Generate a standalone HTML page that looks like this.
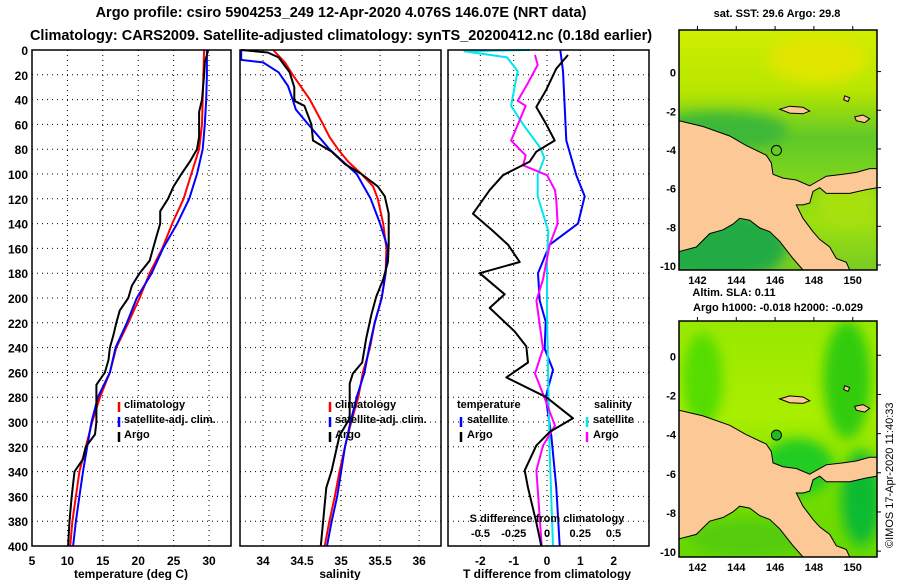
<!DOCTYPE html>
<html><head><meta charset="utf-8">
<style>
body{margin:0;background:#fff;}
svg text{font-family:"Liberation Sans",sans-serif;font-weight:bold;fill:#000;}
</style></head>
<body>
<svg id="chart" width="900" height="580" viewBox="0 0 900 580" xmlns="http://www.w3.org/2000/svg">
<text x="341" y="17" font-size="14.5" text-anchor="middle">Argo profile: csiro 5904253_249 12-Apr-2020 4.076S 146.07E (NRT data)</text>
<text x="341" y="40" font-size="14.5" text-anchor="middle">Climatology: CARS2009. Satellite-adjusted climatology: synTS_20200412.nc (0.18d earlier)</text>
<text x="777" y="17" font-size="11" text-anchor="middle">sat. SST: 29.6 Argo: 29.8</text>
<text x="734" y="296" font-size="11" text-anchor="middle">Altim. SLA: 0.11</text>
<text x="778" y="311" font-size="11" text-anchor="middle">Argo h1000: -0.018 h2000: -0.029</text>
<text transform="translate(893,548) rotate(-90)" font-size="11" style="font-weight:normal">©IMOS 17-Apr-2020 11:40:33</text>
<g id="plots"></g>
<g id="maps"></g>
</svg>
<script>
// ---------- data ----------
const depthsT = [0,20,40,60,80,100,120,140,160,180,200,220,240,260,280,300,320,340,360,380,400];
const tempClim = [29.3,29.2,29.1,29.0,28.6,27.5,26.4,24.8,23.4,21.6,20.2,18.6,16.9,16.0,14.6,13.5,12.6,11.7,11.2,10.7,10.4];
const tempSat = [29.7,29.7,29.6,29.4,29.1,28.3,27.2,25.5,23.5,21.9,19.8,18.4,16.8,16.0,14.3,13.4,12.8,12.2,11.7,11.2,10.8];
const depthsArgoT = [0,10,20,40,50,70,80,90,100,110,120,130,140,150,160,170,180,190,200,210,220,230,240,250,260,270,280,300,310,320,330,340,360,380,400];
const tempArgo = [29.9,29.4,29.3,29.0,28.6,28.6,28.3,27.3,26.1,25.0,24.2,23.1,23.1,22.6,22.1,21.6,20.2,19.1,18.6,17.4,16.9,16.5,16.0,15.8,15.3,14.1,14.1,14.1,13.9,12.6,12.2,11.0,10.6,10.3,10.1];

const depthsSC = [0,10,20,30,40,60,70,80,90,100,110,120,140,160,180,200,220,240,260,280,300,320,340,360,380,400];
const salClim = [34.13,34.28,34.38,34.49,34.6,34.77,34.85,34.96,35.09,35.26,35.41,35.47,35.54,35.58,35.57,35.52,35.43,35.37,35.28,35.22,35.13,35.05,34.98,34.92,34.85,34.79];
const depthsSS = [0,8,10,18,29,40,48,60,80,100,120,140,160,180,200,220,240,260,280,300,320,340,360,380,400];
const salSat = [33.72,33.72,34.0,34.2,34.32,34.38,34.42,34.58,34.85,35.2,35.38,35.5,35.6,35.57,35.52,35.43,35.36,35.3,35.2,35.12,35.05,35.0,34.95,34.88,34.82];
const depthsSA = [0,2,6,18,30,41,45,60,73,82,92,100,110,118,132,157,171,185,199,213,233,252,261,269,297,311,339,353,400];
const salArgo = [33.72,34.06,34.2,34.34,34.4,34.4,34.53,34.62,34.64,34.88,35.05,35.26,35.47,35.56,35.61,35.61,35.6,35.54,35.45,35.39,35.32,35.27,35.15,35.11,35.11,34.98,34.88,34.81,34.74];

const depthsDTs = [0,17,73,101,118,140,157,180,202,219,241,258,280,311,353,400];
const dTsat = [0.4,0.48,0.58,0.88,1.13,0.93,0.08,-0.27,-0.22,-0.04,-0.07,0.18,-0.04,0.13,0.28,0.38];
const depthsDTa = [4,15,32,46,60,73,82,90,101,113,132,146,157,171,180,197,208,227,239,252,264,280,297,308,319,339,353,381,400];
const dTargo = [0.63,0.28,-0.02,-0.32,-0.02,0.23,-0.32,-0.52,-1.32,-1.72,-2.22,-1.62,-1.17,-0.82,-2.02,-1.27,-1.72,-0.97,-0.62,-0.57,-1.22,-0.02,0.78,0.08,-0.32,-0.67,-0.57,-0.32,-0.17];
const depthsDSs = [0,1,6,17,45,60,79,87,101,118,146,171,213,269,325,400];
const dSsat = [-0.13,-0.62,-0.3,-0.22,-0.27,-0.18,-0.05,-0.02,-0.07,-0.07,0.01,0.0,0.0,0.01,0.02,0.045];
const depthsDSa = [4,12,26,41,45,73,85,93,101,113,121,140,157,185,202,241,261,280,303,319,339,400];
const dSargo = [-0.09,-0.07,-0.14,-0.22,-0.16,-0.27,-0.16,-0.18,0.0,0.06,0.07,0.08,0.02,-0.03,-0.08,-0.03,-0.09,-0.02,0.06,-0.03,-0.08,-0.04];

const depthTicks = [0,20,40,60,80,100,120,140,160,180,200,220,240,260,280,300,320,340,360,380,400];
const tempTicks = [5,10,15,20,25,30];
const salTicks = [34,34.5,35,35.5,36];
const dTTicks = [-2,-1,0,1,2];
const dSTicks = [-0.5,-0.25,0,0.25,0.5];
const latTicks = [0,-2,-4,-6,-8,-10];
const lonTicks = [142,144,146,148,150];

// ---------- helpers ----------
const NS = 'http://www.w3.org/2000/svg';
function mk(tag, attrs, parent){const e=document.createElementNS(NS,tag);for(const k in attrs)e.setAttribute(k,attrs[k]);parent.appendChild(e);return e;}
const Y0=50, Y1=546;
const yD = d => Y0 + d*(Y1-Y0)/400;
const plots = document.getElementById('plots');

function panel(name,x0,x1,vmin,vmax){
  const sx = v => x0 + (v-vmin)/(vmax-vmin)*(x1-x0);
  const g = mk('g',{},plots);
  
  
  return {g,sx,x0,x1};
}
function grid(p, ticks, name){
  ticks.forEach(t=>{
    const l=mk('line',{x1:p.sx(t),x2:p.sx(t),y1:Y0,y2:Y1,stroke:'#000','stroke-width':1,'stroke-dasharray':'1,4'},p.g);
    
    
  });
  depthTicks.forEach(d=>{
    const l=mk('line',{x1:p.x0,x2:p.x1,y1:yD(d),y2:yD(d),stroke:'#000','stroke-width':1,'stroke-dasharray':'1,4'},p.g);
    
    
  });
}
function frame(p){
  const r=mk('rect',{x:p.x0,y:Y0,width:p.x1-p.x0,height:Y1-Y0,fill:'none',stroke:'#000','stroke-width':1.5},p.g);
  
  
}
function series(p, sxf, depths, vals, color, name){
  let pts=depths.map((d,i)=>{let x=sxf(vals[i]);x=Math.max(p.x0,Math.min(p.x1,x));return x.toFixed(1)+','+yD(d).toFixed(1);}).join(' ');
  const pl=mk('polyline',{points:pts,fill:'none',stroke:color,'stroke-width':2,'stroke-linejoin':'round'},p.g);
  
  
}
function xlabels(p, ticks, y){
  ticks.forEach(t=>{
    const tx=mk('text',{x:p.sx(t),y:y,'font-size':12,'text-anchor':'middle'},p.g);
    tx.textContent=String(t);
    
    
  });
}
function txt(parent,x,y,s,size,name,anchor){
  const t=mk('text',{x:x,y:y,'font-size':size,'text-anchor':anchor||'start'},parent);
  t.textContent=s;
  
  
  return t;
}
function legendMark(parent,x,y,color,name){
  const l=mk('line',{x1:x,x2:x,y1:y-9,y2:y+1,stroke:color,'stroke-width':2.5},parent);
  
  
}

// ---------- temperature panel ----------
const pT = panel('temperature-panel',32,231,5,33.1);
grid(pT,tempTicks.slice(1),'temperature');
series(pT,pT.sx,depthsT,tempClim,'#ff0000','temperature-climatology-line');
series(pT,pT.sx,depthsT,tempSat,'#0000ff','temperature-satellite-line');
series(pT,pT.sx,depthsArgoT,tempArgo,'#000000','temperature-argo-line');
frame(pT);
xlabels(pT,tempTicks,565);
txt(pT.g,131,578,'temperature (deg C)',12,'temperature-axis-title','middle');
depthTicks.forEach(d=>{txt(pT.g,28,yD(d)+5,String(d),12,'depth-tick-label','end');});
legendMark(pT.g,119,411,'#ff0000','legend-climatology-mark');
txt(pT.g,124,408,'climatology',11,'legend-climatology-text');
legendMark(pT.g,119,426,'#0000ff','legend-satellite-mark');
txt(pT.g,124,423,'satellite-adj. clim.',11,'legend-satellite-text');
legendMark(pT.g,119,441,'#000000','legend-argo-mark');
txt(pT.g,124,438,'Argo',11,'legend-argo-text');

// ---------- salinity panel ----------
const pS = panel('salinity-panel',240,441,33.705,36.28);
grid(pS,salTicks,'salinity');
series(pS,pS.sx,depthsSC,salClim,'#ff0000','salinity-climatology-line');
series(pS,pS.sx,depthsSS,salSat,'#0000ff','salinity-satellite-line');
series(pS,pS.sx,depthsSA,salArgo,'#000000','salinity-argo-line');
frame(pS);
xlabels(pS,salTicks,565);
txt(pS.g,340,578,'salinity',12,'salinity-axis-title','middle');
legendMark(pS.g,330,411,'#ff0000','legend-climatology-mark');
txt(pS.g,335,408,'climatology',11,'legend-climatology-text');
legendMark(pS.g,330,426,'#0000ff','legend-satellite-mark');
txt(pS.g,335,423,'satellite-adj. clim.',11,'legend-satellite-text');
legendMark(pS.g,330,441,'#000000','legend-argo-mark');
txt(pS.g,335,438,'Argo',11,'legend-argo-text');

// ---------- difference panel ----------
const pD = panel('difference-panel',448,649,-2.97,3.06);
const sxS = v => 547 + v*133;
grid(pD,dTTicks,'tdiff');
series(pD,pD.sx,depthsDTs,dTsat,'#0000ff','tdiff-satellite-line');
series(pD,sxS,depthsDSs,dSsat,'#00e5ee','sdiff-satellite-line');
series(pD,sxS,depthsDSa,dSargo,'#ff00ff','sdiff-argo-line');
series(pD,pD.sx,depthsDTa,dTargo,'#000000','tdiff-argo-line');
frame(pD);
xlabels(pD,dTTicks,565);
txt(pD.g,547,578,'T difference from climatology',12,'tdiff-axis-title','middle');
txt(pD.g,547,522,'S difference from climatology',11,'sdiff-axis-title','middle');
dSTicks.forEach(t=>{txt(pD.g,sxS(t),537,String(t),11,'sdiff-tick-label','middle');});
txt(pD.g,457,408,'temperature',11,'legend-temperature-heading');
legendMark(pD.g,461,426,'#0000ff','legend-tsat-mark');
txt(pD.g,467,423,'satellite',11,'legend-tsat-text');
legendMark(pD.g,461,441,'#000000','legend-targo-mark');
txt(pD.g,467,438,'Argo',11,'legend-targo-text');
txt(pD.g,594,408,'salinity',11,'legend-salinity-heading');
legendMark(pD.g,587,426,'#00e5ee','legend-ssat-mark');
txt(pD.g,593,423,'satellite',11,'legend-ssat-text');
legendMark(pD.g,587,441,'#ff00ff','legend-sargo-mark');
txt(pD.g,593,438,'Argo',11,'legend-sargo-text');

// ---------- maps ----------
const maps = document.getElementById('maps');
const landZ = [[28,330],[100,345],[180,370],[230,395],[290,420],[305,440],[310,470],[340,480],[380,485],[420,500],[440,490],[470,475],[520,470],[560,465],[600,455],[622,455],[622,505],[590,510],[540,520],[470,520],[450,505],[430,515],[420,545],[400,550],[380,550],[400,585],[430,620],[450,640],[480,660],[500,690],[530,700],[540,720],[400,720],[370,690],[330,645],[300,620],[270,610],[240,590],[210,585],[190,600],[160,615],[120,625],[80,660],[28,672]];
const landF = landZ.map(p=>[(p[0]-28)/594,(p[1]-93)/627]);
const islandF = [[[330,300],[360,292],[400,295],[420,305],[400,312],[360,310]],[[555,320],[580,315],[600,325],[585,335],[560,330]],[[525,265],[540,270],[535,280],[522,275]]].map(is=>is.map(p=>[(p[0]-28)/594,(p[1]-93)/627]));

function drawMap(name,x0,y0,w,h,latTop,latBot,kind){
  const g=mk('g',{},maps);
  
  
  const defs=mk('defs',{},g);
  const gid=name+'-grad', cid=name+'-clip', fid=name+'-blur';
  const cp=mk('clipPath',{id:cid},defs);
  mk('rect',{x:x0,y:y0,width:w,height:h},cp);
  const flt=mk('filter',{id:fid,x:'-50%',y:'-50%',width:'200%',height:'200%'},defs);
  mk('feGaussianBlur',{stdDeviation:6},flt);
  const lg=mk('linearGradient',{id:gid,x1:0,y1:0,x2:0,y2:1},defs);
  const stops = kind==='sst'
    ? [[0,'#d0ee00'],[0.25,'#b8e600'],[0.45,'#60c828'],[0.6,'#7ad41e'],[0.8,'#9ee010'],[1,'#77cc22']]
    : [[0,'#99e800'],[0.4,'#aaee00'],[0.7,'#77dd00'],[1,'#66d800']];
  stops.forEach(s=>mk('stop',{offset:s[0],'stop-color':s[1]},lg));
  const inner=mk('g',{'clip-path':'url(#'+cid+')'},g);
  const bg=mk('rect',{x:x0,y:y0,width:w,height:h,fill:'url(#'+gid+')'},inner);
  
  
  const patches = kind==='sst'
    ? [[0.2,0.9,0.35,0.15,'#22aa44'],[0.2,0.42,0.35,0.08,'#3cb838'],[0.7,0.12,0.25,0.1,'#e0e600'],[0.85,0.72,0.15,0.1,'#a8e010']]
    : [[0.12,0.25,0.1,0.2,'#55dd00'],[0.85,0.25,0.12,0.25,'#33cc11'],[0.6,0.62,0.18,0.12,'#22cc22'],[0.92,0.75,0.1,0.2,'#11bb33'],[0.35,0.92,0.3,0.08,'#55cc11']];
  patches.forEach(p=>{
    const e=mk('ellipse',{cx:x0+p[0]*w,cy:y0+p[1]*h,rx:p[2]*w,ry:p[3]*h,fill:p[4],filter:'url(#'+fid+')'},inner);
    
    
  });
  const pts=landF.map(p=>(x0+p[0]*w).toFixed(1)+','+(y0+p[1]*h).toFixed(1)).join(' ');
  const land=mk('polygon',{points:pts,fill:'#fbc896',stroke:'#000','stroke-width':1},inner);
  
  
  islandF.forEach(is=>{
    const ip=is.map(p=>(x0+p[0]*w).toFixed(1)+','+(y0+p[1]*h).toFixed(1)).join(' ');
    const isl=mk('polygon',{points:ip,fill:'#fbc896',stroke:'#000','stroke-width':1},inner);
    
    
  });
  const lonX = lon => x0 + (lon-141.05)/(151.25-141.05)*w;
  const latY = lat => y0 + (latTop-lat)/(latTop-latBot)*h;
  const c=mk('circle',{cx:lonX(146.07),cy:latY(-4.076),r:5,fill:kind==='sst'?'none':'#22bb22',stroke:'#000','stroke-width':1},g);
  
  
  const fr=mk('rect',{x:x0,y:y0,width:w,height:h,fill:'none',stroke:'#000','stroke-width':1.5},g);
  
  
  latTicks.forEach(l=>{
    mk('line',{x1:x0+w,x2:x0+w+4,y1:latY(l),y2:latY(l),stroke:'#000'},g);
    txt(g,676,latY(l)+5,String(l),11,'lat-tick-label','end');
  });
  lonTicks.forEach(l=>{
    mk('line',{x1:lonX(l),x2:lonX(l),y1:y0-4,y2:y0,stroke:'#000'},g);
    txt(g,lonX(l),y0+h+14,String(l),11,'lon-tick-label','middle');
  });
}
drawMap('sst-map',679,30,198,240,2.15,-10.26,'sst');
drawMap('sla-map',679,321,198,236,1.75,-10.3,'sla');
</script>
</body></html>
